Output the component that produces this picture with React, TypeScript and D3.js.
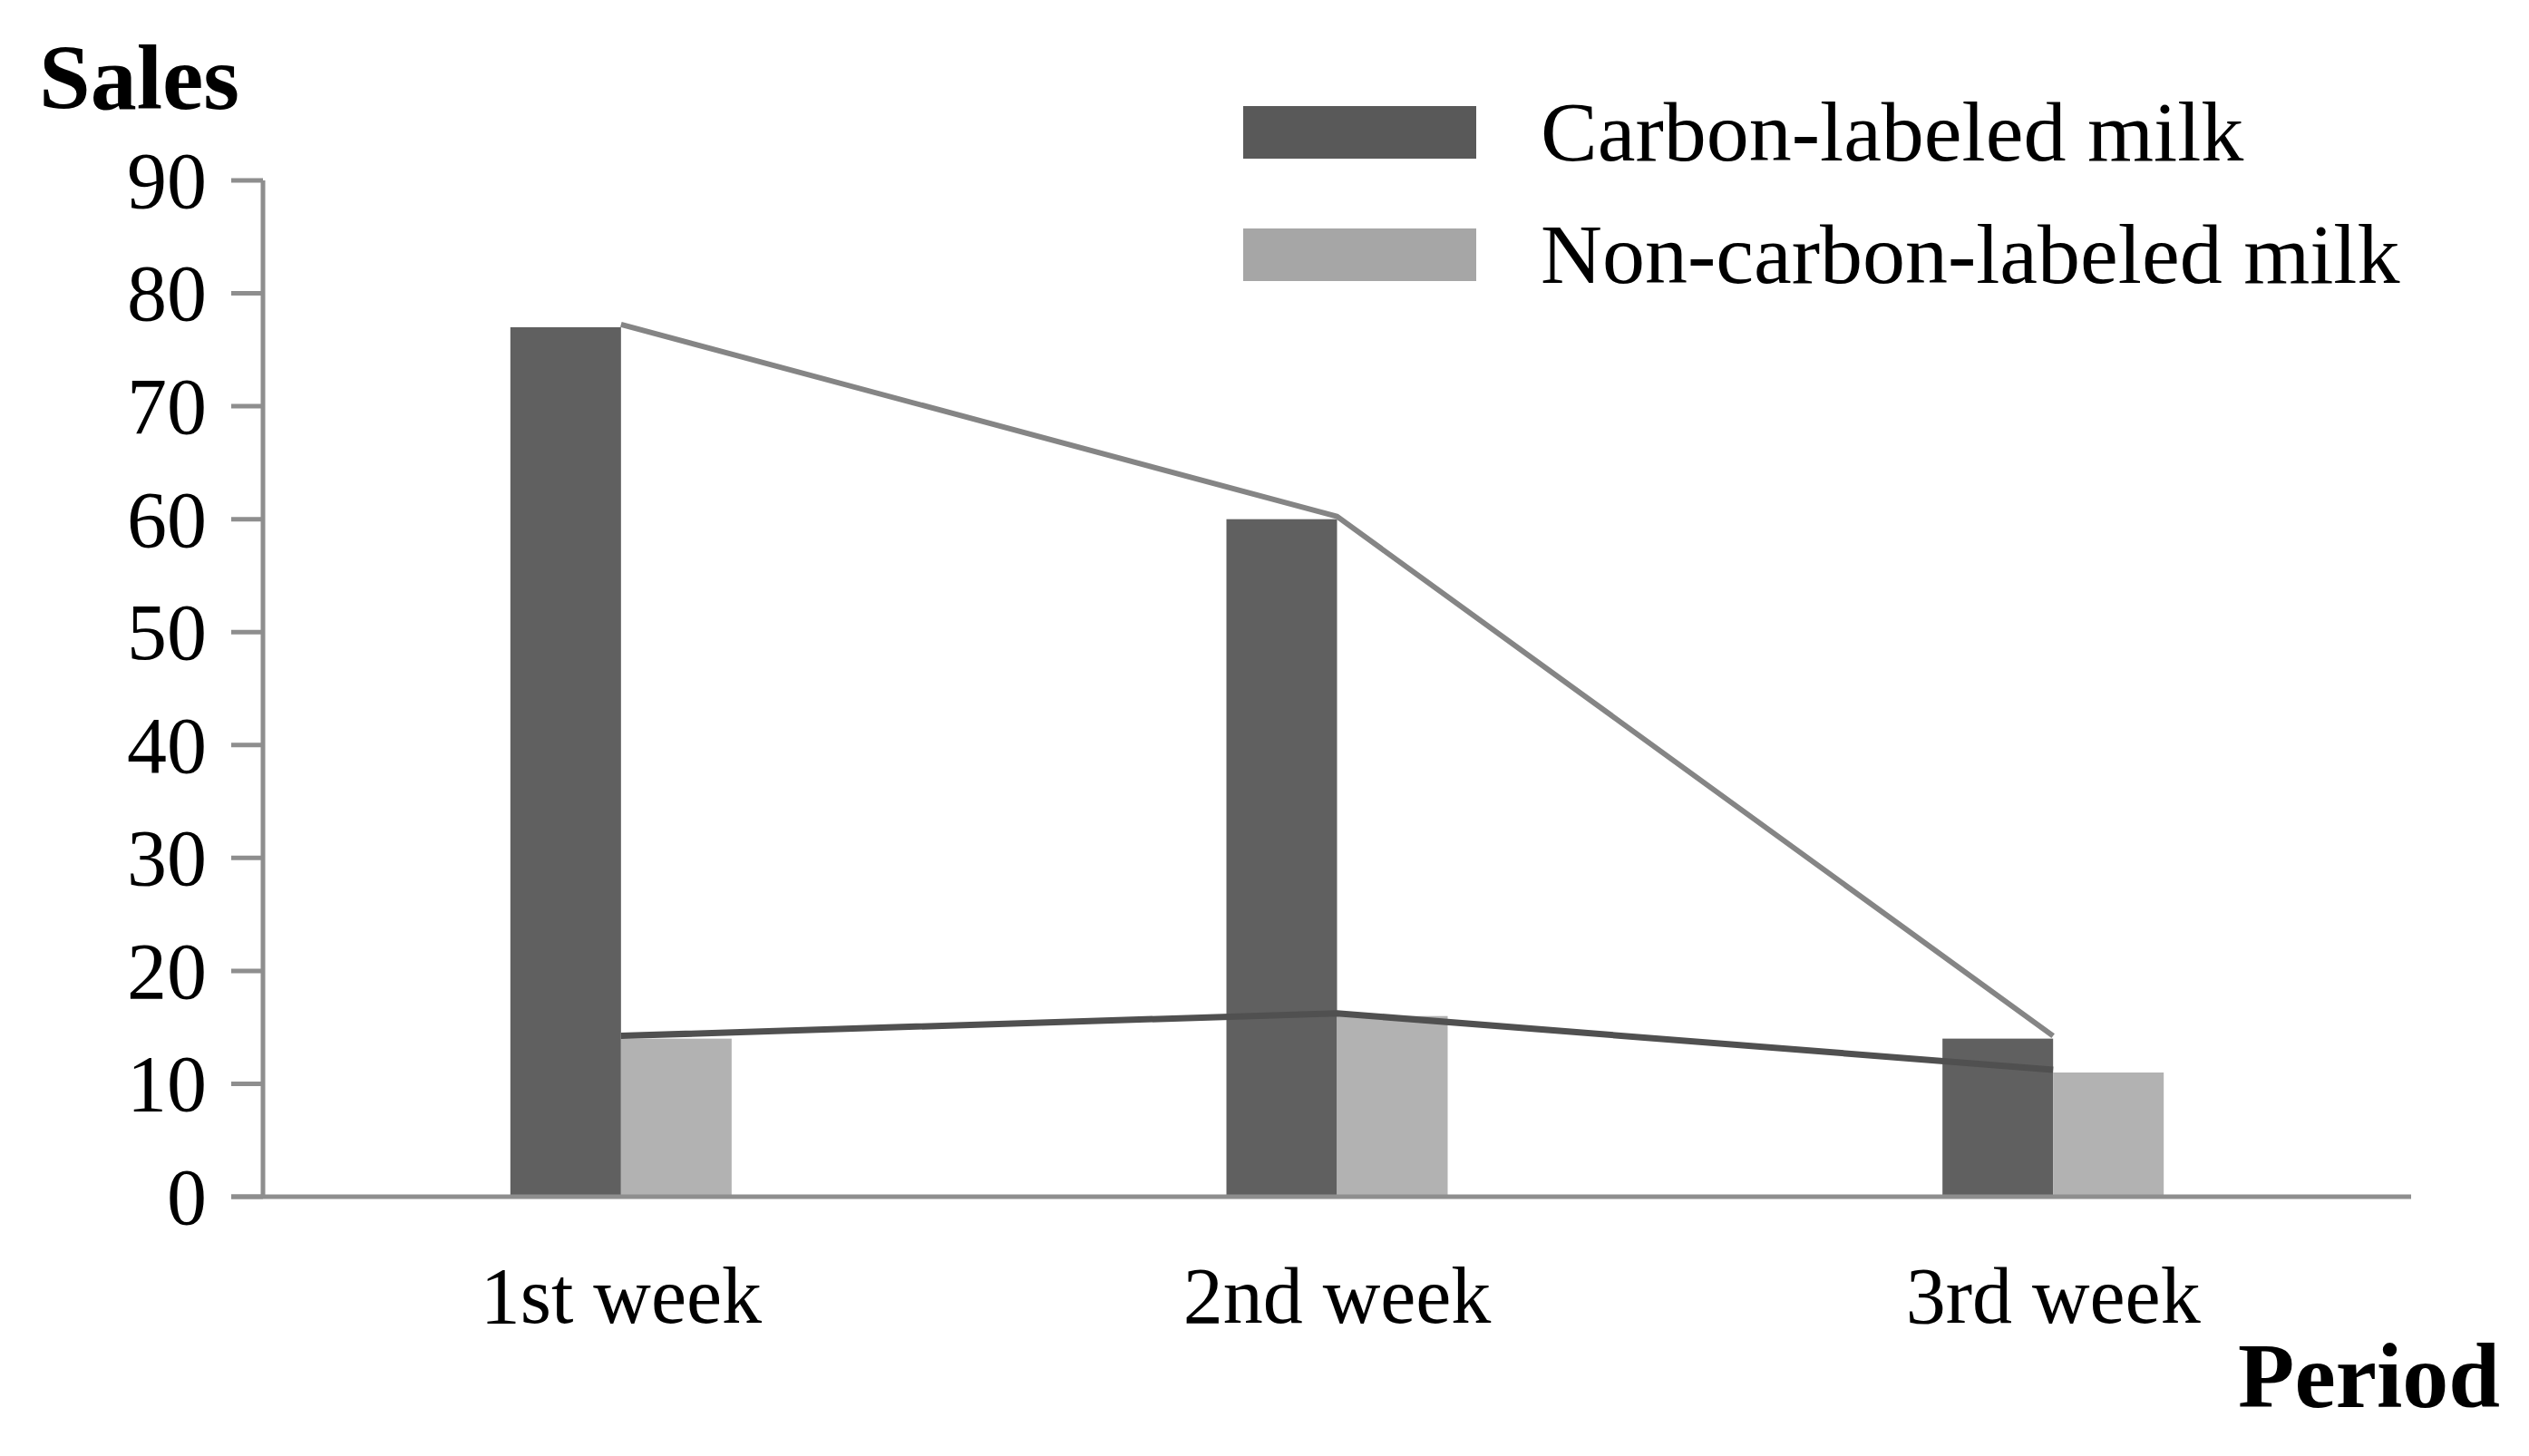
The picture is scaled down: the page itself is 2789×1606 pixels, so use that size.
import { useMemo } from "react";
import * as d3 from "d3";

const WIDTH = 2789;
const HEIGHT = 1606;
const MARGIN = { top: 199, right: 130, bottom: 286, left: 290 };

const weeks = ["1st week", "2nd week", "3rd week"];
const carbonSales = [77, 60, 14];
const nonCarbonSales = [14, 16, 11];
const yTicks = [0, 10, 20, 30, 40, 50, 60, 70, 80, 90];
const seriesNames = ["Carbon-labeled milk", "Non-carbon-labeled milk"];

const DARK = "#606060";
const LIGHT = "#b2b2b2";
const AXIS = "#8e8e8e";
const FONT = "'Liberation Serif', 'Times New Roman', serif";
const BAR_W = 122;

const App = () => {
  const boundsWidth = WIDTH - MARGIN.left - MARGIN.right;
  const boundsHeight = HEIGHT - MARGIN.top - MARGIN.bottom;

  const xScale = useMemo(
    () => d3.scaleBand().domain(weeks).range([0, boundsWidth]).padding(0),
    [boundsWidth]
  );
  const yScale = useMemo(
    () => d3.scaleLinear().domain([0, 90]).range([boundsHeight, 0]),
    [boundsHeight]
  );

  const center = (w: string) => xScale(w)! + xScale.bandwidth() / 2;

  // trend line joins the tops at the middle of each week group
  const trendLine = d3
    .line<number>()
    .x((_, i) => center(weeks[i]))
    .y((d) => yScale(d));

  return (
    <svg
      width={WIDTH}
      height={HEIGHT}
      style={{ position: "absolute", left: 0, top: 0, display: "block", background: "#fff" }}
      fontFamily={FONT}
    >
      <text x={43} y={120} fontSize={102} fontWeight="bold" fill="#000">
        Sales
      </text>

      <g transform={`translate(${MARGIN.left},${MARGIN.top})`}>
        {/* bars */}
        {weeks.map((w, i) => (
          <g key={w}>
            <rect
              x={center(w) - BAR_W}
              width={BAR_W}
              y={yScale(carbonSales[i])}
              height={boundsHeight - yScale(carbonSales[i])}
              fill={DARK}
            />
            <rect
              x={center(w)}
              width={BAR_W}
              y={yScale(nonCarbonSales[i])}
              height={boundsHeight - yScale(nonCarbonSales[i])}
              fill={LIGHT}
            />
          </g>
        ))}

        {/* trend lines */}
        <path
          d={trendLine(carbonSales) ?? ""}
          fill="none"
          stroke="#858585"
          strokeWidth={6}
          strokeLinejoin="round"
          transform="translate(0,-3)"
        />
        <path
          d={trendLine(nonCarbonSales) ?? ""}
          fill="none"
          stroke="#505050"
          strokeWidth={7}
          strokeLinejoin="round"
          transform="translate(0,-3)"
        />

        {/* y axis */}
        <line x1={0} x2={0} y1={yScale(90)} y2={boundsHeight} stroke={AXIS} strokeWidth={5} />
        {yTicks.map((t) => (
          <g key={t} transform={`translate(0,${yScale(t)})`}>
            <line x1={-35} x2={0} stroke={AXIS} strokeWidth={5} />
            <text x={-62} dy="0.34em" textAnchor="end" fontSize={88} fill="#000">
              {t}
            </text>
          </g>
        ))}

        {/* x axis */}
        <line
          x1={-35}
          x2={boundsWidth}
          y1={boundsHeight}
          y2={boundsHeight}
          stroke={AXIS}
          strokeWidth={5}
        />
        {weeks.map((w) => (
          <text
            key={w}
            x={center(w)}
            y={boundsHeight + 139}
            textAnchor="middle"
            fontSize={88}
            fill="#000"
          >
            {w}
          </text>
        ))}
      </g>

      <text x={2757} y={1552} textAnchor="end" fontSize={102} fontWeight="bold" fill="#000">
        Period
      </text>

      {/* legend */}
      {seriesNames.map((name, i) => (
        <g key={name} transform={`translate(1371,${117 + i * 135})`}>
          <rect width={257} height={58} fill={i === 0 ? "#595959" : "#a6a6a6"} />
          <text x={328} y={60} fontSize={94} fill="#000">
            {name}
          </text>
        </g>
      ))}
    </svg>
  );
};

export default App;
